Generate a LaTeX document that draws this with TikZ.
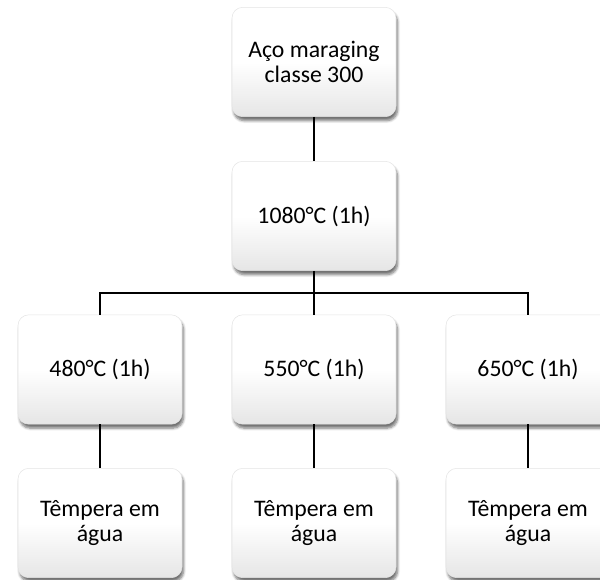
\documentclass[tikz,border=0pt]{standalone}
\usepackage{fontspec}
\setmainfont{Carlito}
\usetikzlibrary{shadows.blur}

\tikzset{every picture/.style={line width=0.75pt}}
\tikzset{stepbox/.style={rectangle, rounded corners=8pt, minimum width=123pt, minimum height=82pt,
    align=center, draw=black!10, line width=0.4pt, top color=white, bottom color=black!10,
    middle color=white, shading angle=0,
    blur shadow={shadow xshift=1.2pt, shadow yshift=-3pt, shadow blur steps=6, shadow opacity=55},
    font=\fontsize{17.8}{19.2}\selectfont, inner sep=0pt},
  link/.style={line width=2.1pt, black}}

\begin{document}
\begin{tikzpicture}[x=0.75pt,y=0.75pt,yscale=-1,xscale=1]
\useasboundingbox (0,0) rectangle (600,579); %diagram is 600 x 579

% Text Node
\node [stepbox] (steel) at (314,62) {Aço maraging\\classe 300};
% Text Node
\node [stepbox] (sol) at (314,216) {1080°C (1h)};
% Text Node
\node [stepbox] (age480) at (100,369.5) {480°C (1h)};
% Text Node
\node [stepbox] (age550) at (314,369.5) {550°C (1h)};
% Text Node
\node [stepbox] (age650) at (528,369.5) {650°C (1h)};
% Text Node
\node [stepbox] (wq480) at (100,523) {Têmpera em\\água};
% Text Node
\node [stepbox] (wq550) at (314,523) {Têmpera em\\água};
% Text Node
\node [stepbox] (wq650) at (528,523) {Têmpera em\\água};

% Connection
\coordinate (split) at (314,293);
\draw [link] (steel) -- (sol);
\draw [link] (sol) -- (split);
\draw [link] (split) -| (age480);
\draw [link] (split) -| (age650);
\draw [link] (split) -- (age550);
\draw [link] (age480) -- (wq480);
\draw [link] (age550) -- (wq550);
\draw [link] (age650) -- (wq650);

\end{tikzpicture}
\end{document}
